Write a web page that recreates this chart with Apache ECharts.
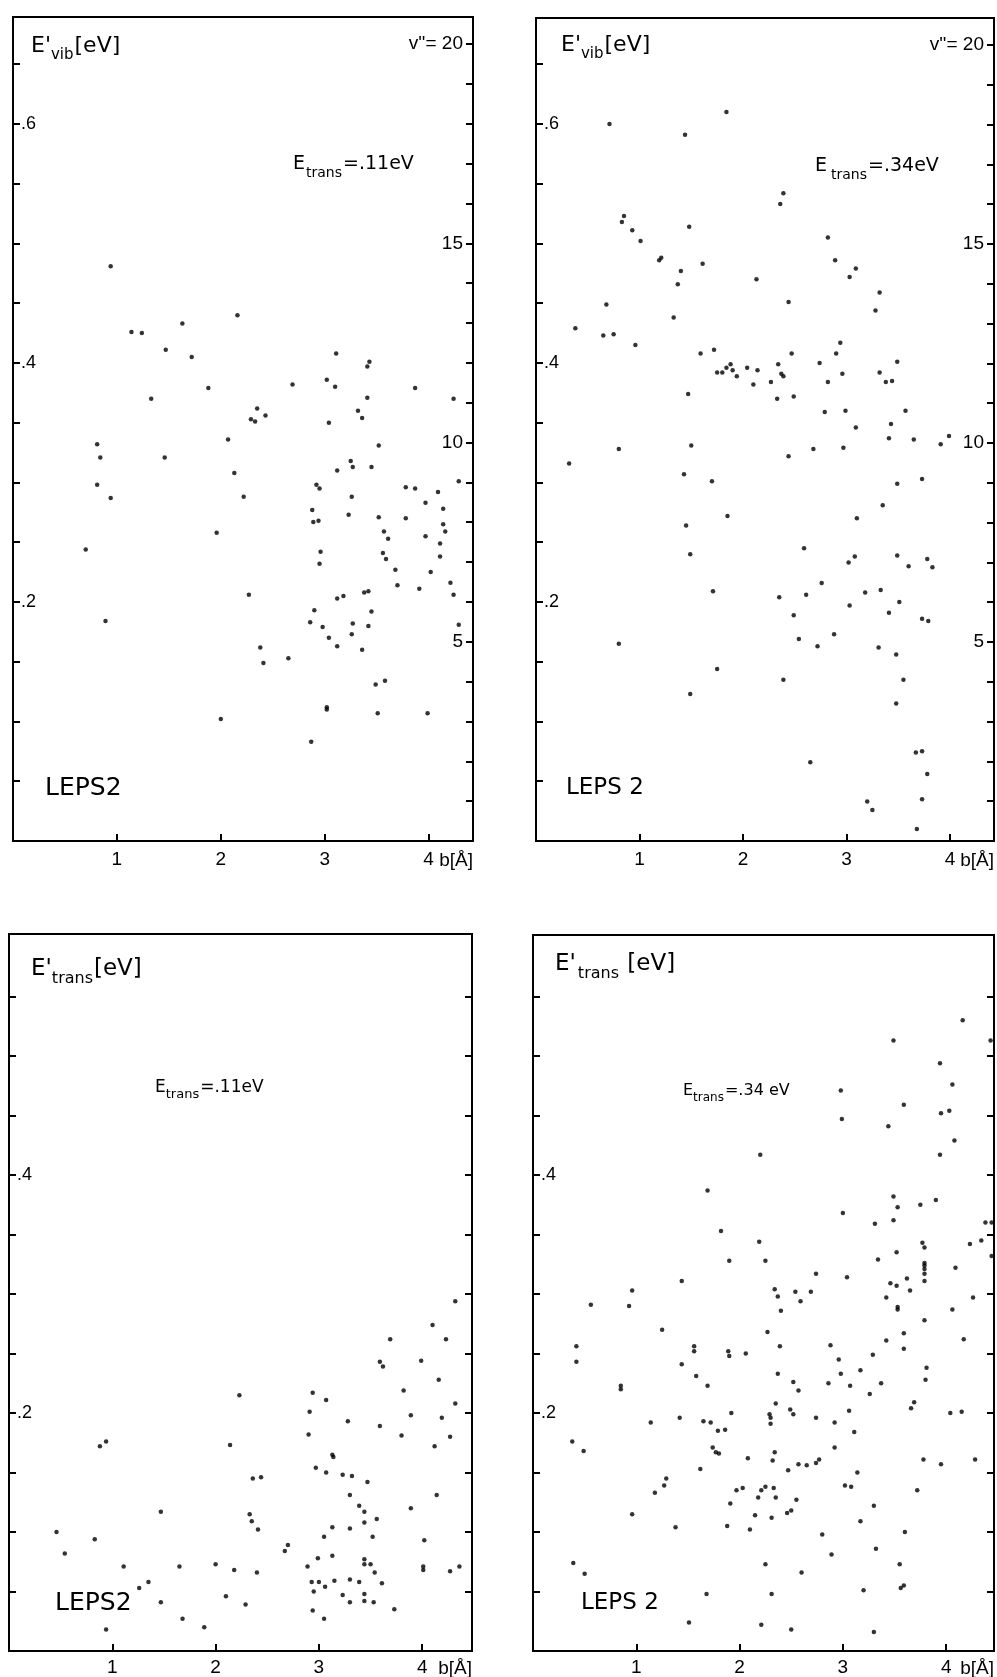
<!DOCTYPE html>
<html>
<head>
<meta charset="utf-8">
<script src="https://cdn.jsdelivr.net/npm/echarts@6/dist/echarts.min.js"></script>
<style>
  html, body { margin: 0; padding: 0; background: #fff; }
  #chart { width: 997px; height: 1677px; }
</style>
</head>
<body>
<div id="chart"></div>
<script>
// impact parameter b [Å] vs final energy [eV], LEPS2 surface
// E'vib, Etrans = .11 eV
const vib11 = [
  [0.94,0.481],
  [1.14,0.426],[1.24,0.425],[1.63,0.433],[2.16,0.440],[1.47,0.411],[1.72,0.405],[3.11,0.408],[3.41,0.397],[3.43,0.401],
  [1.33,0.370],[1.88,0.379],[2.69,0.382],[3.02,0.386],[3.10,0.380],[3.87,0.379],[4.24,0.370],[3.41,0.371],
  [2.35,0.362],[2.29,0.353],[2.33,0.351],[2.43,0.356],[3.32,0.360],[3.36,0.354],[3.04,0.350],
  [0.81,0.332],[0.84,0.321],[1.46,0.321],[2.07,0.336],[3.52,0.331],[3.25,0.318],[3.27,0.313],[3.12,0.310],[3.45,0.313],[2.13,0.308],
  [0.81,0.298],[0.94,0.287],[2.22,0.288],[2.92,0.298],[2.95,0.295],[4.29,0.301],[3.26,0.288],[3.78,0.296],[3.87,0.295],[4.09,0.292],[3.97,0.283],
  [2.88,0.277],[2.89,0.267],[2.94,0.268],[3.23,0.273],[3.52,0.271],[3.78,0.270],[4.14,0.278],[4.14,0.265],[4.16,0.259],[3.57,0.259],[3.61,0.253],[3.97,0.255],[4.11,0.249],
  [1.96,0.258],[0.70,0.244],[2.96,0.242],[2.95,0.232],[3.56,0.241],[3.59,0.236],[4.11,0.238],[3.68,0.227],[4.02,0.225],
  [2.27,0.206],[3.70,0.214],[3.91,0.211],[4.21,0.216],[4.24,0.206],[0.89,0.184],[2.90,0.193],[2.86,0.183],[2.98,0.179],
  [3.12,0.203],[3.18,0.205],[3.38,0.208],[3.42,0.209],[3.45,0.192],[3.27,0.182],[3.42,0.180],[3.26,0.173],[3.04,0.170],
  [3.12,0.163],[3.36,0.160],[4.29,0.181],[2.38,0.162],[2.41,0.149],[2.65,0.153],[3.49,0.131],[3.58,0.134],
  [3.02,0.112],[3.02,0.110],[2.00,0.102],[3.51,0.107],[3.99,0.107],[2.87,0.083]
];
// E'vib, Etrans = .34 eV
const vib34 = [
  [0.71,0.600],[1.44,0.591],[1.84,0.610],[0.83,0.518],[0.85,0.523],[0.93,0.511],[1.01,0.502],[1.19,0.486],[1.21,0.488],
  [1.48,0.514],[1.40,0.477],[1.37,0.466],[1.61,0.483],[2.13,0.470],[2.36,0.533],[2.39,0.542],[2.82,0.505],[2.89,0.486],
  [3.03,0.472],[3.09,0.479],[3.32,0.459],
  [2.44,0.451],[3.28,0.444],[0.68,0.449],[0.38,0.429],[0.65,0.423],[0.75,0.424],[0.96,0.415],[1.33,0.438],[1.59,0.408],
  [1.72,0.411],[2.94,0.417],[2.90,0.408],[2.47,0.408],[3.49,0.401],[1.75,0.392],[1.80,0.392],[1.84,0.396],[1.88,0.399],
  [1.90,0.394],[1.94,0.389],[2.04,0.396],[2.14,0.394],[2.10,0.382],[2.27,0.384],[2.34,0.399],[2.37,0.391],[2.39,0.389],
  [2.74,0.400],[2.82,0.384],[2.96,0.391],[3.32,0.392],[3.38,0.384],[3.44,0.385],[1.47,0.374],[2.33,0.370],[2.49,0.372],
  [2.79,0.359],[2.99,0.360],[3.57,0.360],[3.09,0.346],[3.43,0.349],[3.41,0.337],[3.65,0.336],[3.91,0.332],[3.99,0.339],
  [0.32,0.316],[0.80,0.328],[1.50,0.331],[2.68,0.328],[2.97,0.329],[2.44,0.322],[1.43,0.307],[1.70,0.301],[3.49,0.299],
  [3.73,0.303],[3.35,0.281],[3.10,0.270],[1.85,0.272],[1.45,0.264],[1.49,0.240],[2.59,0.245],[3.02,0.233],[3.08,0.238],
  [3.49,0.239],[3.60,0.230],[3.78,0.236],[3.83,0.229],
  [1.71,0.209],[2.35,0.204],[2.61,0.206],[2.76,0.216],[3.18,0.208],[3.33,0.210],[3.03,0.197],[3.51,0.200],[2.49,0.189],
  [3.41,0.191],[3.73,0.186],[3.79,0.184],[0.80,0.165],[2.54,0.169],[2.88,0.173],[2.72,0.163],[3.31,0.162],[3.48,0.156],
  [1.75,0.144],[2.39,0.135],[3.55,0.135],[1.49,0.123],[3.48,0.115],[3.67,0.074],[3.73,0.075],[3.78,0.056],[2.65,0.066],
  [3.20,0.033],[3.25,0.026],[3.73,0.035],[3.68,0.010]
];
// E'trans, Etrans = .11 eV
const trans11 = [
  [4.32,0.294],[4.10,0.274],[3.69,0.262],[4.23,0.262],[3.59,0.243],[3.62,0.239],[3.99,0.244],[4.16,0.228],[3.82,0.219],
  [2.23,0.215],[2.94,0.217],[3.07,0.211],[4.32,0.208],[2.91,0.201],[3.89,0.198],[4.19,0.196],
  [3.28,0.193],[3.59,0.189],[3.80,0.181],[4.27,0.180],[2.90,0.182],[0.88,0.172],[0.94,0.176],[2.14,0.173],[4.12,0.172],
  [3.13,0.165],[3.14,0.163],[2.97,0.154],[3.07,0.150],[3.23,0.148],[3.32,0.147],[2.36,0.145],[2.44,0.146],[3.47,0.142],
  [4.14,0.131],[3.30,0.131],[3.39,0.122],[3.44,0.117],[3.89,0.120],[1.47,0.117],[2.33,0.115],[2.35,0.109],[3.44,0.108],
  [3.56,0.111],[2.41,0.102],[3.13,0.104],[3.30,0.103],[3.05,0.096],[3.52,0.096],[4.02,0.093],[0.46,0.100],[0.83,0.094],
  [0.54,0.082],[2.70,0.089],[2.67,0.084],[3.13,0.080],[2.99,0.078],[3.44,0.077],[3.44,0.073],[3.50,0.073],[3.54,0.066],
  [4.01,0.071],[4.01,0.068],[4.27,0.067],[4.36,0.071],[2.89,0.071],[1.11,0.071],[1.65,0.071],[2.00,0.073],[2.18,0.068],
  [2.40,0.066],[2.93,0.058],[3.00,0.058],[3.06,0.054],[3.15,0.059],[3.30,0.060],[3.39,0.058],[3.61,0.057],[2.95,0.050],
  [3.23,0.047],[3.30,0.041],[3.44,0.042],[3.44,0.048],[3.53,0.041],[3.73,0.035],[2.94,0.034],[3.05,0.027],[1.26,0.053],
  [1.35,0.058],[1.47,0.041],[1.68,0.027],[1.89,0.020],[2.10,0.046],[2.29,0.039],[0.94,0.018]
];
// E'trans, Etrans = .34 eV
const trans34 = [
  [4.16,0.530],[3.49,0.513],[4.43,0.513],[3.94,0.494],[4.06,0.476],[2.98,0.471],[2.99,0.447],[3.59,0.459],[3.95,0.452],
  [4.03,0.454],[3.44,0.441],[4.08,0.429],[2.20,0.417],[3.94,0.417],
  [1.69,0.387],[3.49,0.382],[3.53,0.373],[3.75,0.375],[3.90,0.379],[3.00,0.368],[3.31,0.359],[3.49,0.362],[4.38,0.360],
  [4.44,0.360],[1.82,0.353],[2.19,0.344],[3.77,0.343],[3.79,0.339],[4.23,0.342],[4.34,0.345],[4.44,0.332],[1.90,0.328],
  [2.25,0.328],[3.34,0.329],[3.52,0.335],[3.79,0.326],[3.79,0.324],[3.79,0.321],[3.79,0.317],[3.79,0.311],[4.09,0.322],
  [2.74,0.317],[3.04,0.314],[1.44,0.311],[0.96,0.303],[3.46,0.309],[3.52,0.307],[3.62,0.313],[3.65,0.303],[2.34,0.304],
  [2.37,0.298],[2.54,0.302],[2.69,0.302],[2.59,0.294],[2.40,0.286],[0.56,0.291],[0.93,0.290],[3.42,0.297],[3.53,0.289],
  [3.53,0.287],[4.26,0.297],[4.06,0.287],[3.79,0.278],[1.25,0.270],[2.27,0.268],[3.42,0.261],[3.59,0.267],[4.17,0.262],
  [0.42,0.256],[0.42,0.243],[1.56,0.256],[1.56,0.252],[1.89,0.252],[1.90,0.248],[2.06,0.250],[2.39,0.256],[2.88,0.257],
  [2.96,0.245],[3.29,0.249],[3.59,0.254],[1.44,0.241],[1.58,0.231],[1.69,0.223],[2.37,0.233],[2.52,0.226],[2.57,0.219],
  [2.98,0.233],[3.17,0.236],[2.86,0.225],[3.07,0.223],[3.37,0.225],[3.26,0.216],[3.81,0.238],[3.80,0.228],[0.85,0.223],
  [0.85,0.220],[2.35,0.208],[2.49,0.203],[2.52,0.199],[2.29,0.199],[2.30,0.196],[3.06,0.202],[3.66,0.204],[3.69,0.209],
  [4.04,0.200],[4.15,0.201],[1.92,0.200],[1.42,0.196],[2.74,0.196],
  [1.14,0.192],[1.65,0.193],[1.72,0.192],[2.30,0.191],[2.92,0.192],[3.11,0.184],[0.38,0.176],[0.49,0.168],[1.79,0.185],
  [1.86,0.186],[1.74,0.171],[1.77,0.167],[1.80,0.166],[2.08,0.162],[2.34,0.167],[2.32,0.160],[2.92,0.171],[2.74,0.158],
  [2.77,0.161],[2.57,0.157],[2.65,0.156],[2.47,0.152],[1.62,0.153],[3.14,0.150],[3.78,0.161],[3.95,0.157],[4.28,0.161],
  [1.29,0.145],[1.27,0.139],[1.18,0.133],[1.97,0.135],[2.03,0.137],[2.21,0.135],[2.25,0.138],[2.33,0.137],[2.18,0.129],
  [2.35,0.129],[2.55,0.127],[3.02,0.139],[3.08,0.138],[3.72,0.135],[1.91,0.124],[3.30,0.122],[0.96,0.115],[2.15,0.114],
  [2.46,0.116],[2.50,0.118],[2.31,0.112],[3.17,0.109],[1.38,0.104],[1.88,0.105],[2.10,0.102],[2.80,0.098],[3.60,0.100],
  [2.89,0.081],[3.32,0.086],[0.39,0.074],[0.50,0.065],[2.25,0.073],[2.60,0.066],[3.55,0.073],[3.56,0.053],[3.59,0.055],
  [3.20,0.051],[1.68,0.048],[2.31,0.048],[1.51,0.024],[2.21,0.022],[2.50,0.018],[3.30,0.016]
];

// tick values
const bTicks = [1, 2, 3, 4];
const eTicksTop = [0.05,0.1,0.15,0.2,0.25,0.3,0.35,0.4,0.45,0.5,0.55,0.6,0.65];
const eTicksBottom = [0.05,0.1,0.15,0.2,0.25,0.3,0.35,0.4,0.45,0.5,0.55];
const eLabelsTop = [0.2, 0.4, 0.6];
const eLabelsBottom = [0.2, 0.4];
const vTicks = [1,2,3,4,5,6,7,8,9,10,11,12,13,14,15,16,17,18,19,20];
const vLabels = [5, 10, 15, 20];

const FONT = "'Liberation Sans', Arial, sans-serif";
const TFONT = "'DejaVu Sans', sans-serif";
const black = '#000';

// panel boxes in px: [left, top, width, height, bMax, eMax, vMax]
const panels = [
  [13, 17, 460, 824, 4.427, 0.6895, 20.68],
  [536, 18, 458, 823, 4.425, 0.6887, 20.68],
  [9, 934, 463, 717, 4.482, 0.6025, null],
  [533, 935, 461, 716, 4.463, 0.6017, null]
];

const lineStyle = { color: black, width: 2 };

const grids = [], xAxes = [], yAxes = [], series = [];
const allData = [vib11, vib34, trans11, trans34];

panels.forEach((p, i) => {
  const top = i < 2;
  grids.push({
    left: p[0], top: p[1], width: p[2], height: p[3],
    show: true, borderColor: black, borderWidth: 2, backgroundColor: 'transparent',
    containLabel: false, outerBoundsMode: 'none'
  });
  const labMargin = top ? 9 : 7;
  xAxes.push({
    gridIndex: i, type: 'value', min: 0, max: p[4],
    axisLine: { show: true, onZero: false, lineStyle },
    axisTick: { show: true, inside: true, length: 7, lineStyle, customValues: bTicks },
    axisLabel: { show: true, margin: labMargin, color: black, fontSize: 19, fontFamily: FONT, customValues: bTicks },
    splitLine: { show: false },
    name: 'b[Å]', nameLocation: 'end', nameGap: 0,
    nameTextStyle: { align: 'right', verticalAlign: 'top', padding: [labMargin + 1, 0, 0, 0],
      fontSize: 19, color: black, fontFamily: FONT }
  });
  const leftIdx = yAxes.length;
  yAxes.push({
    gridIndex: i, type: 'value', position: 'left', min: 0, max: p[5],
    axisLine: { show: true, onZero: false, lineStyle },
    axisTick: { show: true, inside: true, length: 7, lineStyle, customValues: top ? eTicksTop : eTicksBottom },
    axisLabel: { show: true, inside: true, margin: 8, color: black, fontSize: 18, fontFamily: FONT,
      customValues: top ? eLabelsTop : eLabelsBottom, formatter: v => '.' + Math.round(v * 10) },
    splitLine: { show: false }
  });
  if (top) {
    yAxes.push({
      gridIndex: i, type: 'value', position: 'right', min: 0, max: p[6],
      axisLine: { show: true, onZero: false, lineStyle },
      axisTick: { show: true, inside: true, length: 7, lineStyle, customValues: vTicks },
      axisLabel: { show: true, inside: true, margin: 10, color: black, fontSize: 19, fontFamily: FONT,
        customValues: vLabels, formatter: v => v === 20 ? "v''= 20" : String(v) },
      splitLine: { show: false }
    });
  } else {
    yAxes.push({
      gridIndex: i, type: 'value', position: 'right', min: 0, max: p[5],
      axisLine: { show: true, onZero: false, lineStyle },
      axisTick: { show: true, inside: true, length: 7, lineStyle, customValues: eTicksBottom },
      axisLabel: { show: false },
      splitLine: { show: false }
    });
  }
  series.push({
    type: 'scatter', xAxisIndex: i, yAxisIndex: leftIdx,
    data: allData[i], symbolSize: 4.5, itemStyle: { color: black },
    silent: true
  });
});

// text with a subscript: main part, subscript, tail
function subText(left, top, a, s, b, size, subSize, subPad, subGap) {
  return {
    type: 'text', left: left, top: top, silent: true,
    style: {
      text: '{m|' + a + '}{s|' + s + '}{m|' + b + '}',
      rich: {
        m: { fontSize: size, lineHeight: size + 3, verticalAlign: 'top', fontFamily: TFONT, fill: black },
        s: { fontSize: subSize, lineHeight: subSize + 2, verticalAlign: 'top', fontFamily: TFONT, fill: black,
             padding: [subPad, 1, 0, subGap] }
      }
    }
  };
}
function plain(left, top, t, size) {
  return { type: 'text', left: left, top: top, silent: true,
    style: { text: t, fontSize: size, fontFamily: TFONT, fill: black } };
}

const graphics = [
  subText(31, 35, "E'", 'vib', '[eV]', 22, 15, 13, 0),
  subText(293, 155, 'E', 'trans', '=.11eV', 19, 14, 11, 1),
  plain(45, 776, 'LEPS2', 25),

  subText(561, 34, "E'", 'vib', '[eV]', 22, 15, 13, 0),
  subText(815, 157, 'E', 'trans', '=.34eV', 19, 14, 11, 4),
  plain(566, 777, 'LEPS 2', 23),

  subText(31, 958, "E'", 'trans', '[eV]', 23, 16, 13, 0),
  subText(155, 1079, 'E', 'trans', '=.11eV', 17, 13, 9, 0),
  plain(55, 1591, 'LEPS2', 25),

  subText(555, 953, "E'", 'trans', ' [eV]', 23, 16, 13, 2),
  subText(683, 1083, 'E', 'trans', '=.34 eV', 16, 12, 9, 0),
  plain(581, 1592, 'LEPS 2', 23)
];

const chart = echarts.init(document.getElementById('chart'), null, { renderer: 'canvas' });
chart.setOption({
  animation: false,
  backgroundColor: '#fff',
  grid: grids,
  xAxis: xAxes,
  yAxis: yAxes,
  series: series,
  graphic: graphics
});
</script>
</body>
</html>
